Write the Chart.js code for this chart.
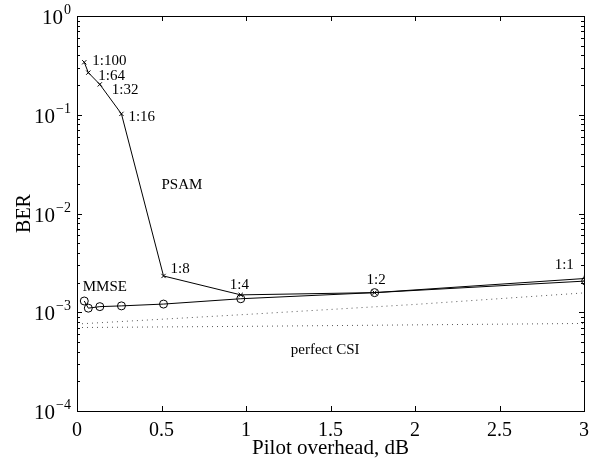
<!DOCTYPE html>
<html>
<head>
<meta charset="utf-8">
<script src="https://cdn.jsdelivr.net/npm/chart.js@4.4.1/dist/chart.umd.min.js"></script>
<style>
  html, body { margin: 0; padding: 0; background: #fff; }
  #wrap { width: 594px; height: 466px; }
</style>
</head>
<body>
<div id="wrap"><canvas id="ber" width="594" height="466"></canvas></div>
<script>
// pilot ratios and their overhead in dB
const ratios = ['1:100', '1:64', '1:32', '1:16', '1:8', '1:4', '1:2', '1:1'];
const overheadDb = [0.043, 0.067, 0.135, 0.263, 0.512, 0.969, 1.761, 3.01];

// BER
const psamBer = [0.34, 0.267, 0.203, 0.102, 2.33e-3, 1.50e-3, 1.58e-3, 2.20e-3];
const mmseBer = [1.30e-3, 1.10e-3, 1.14e-3, 1.16e-3, 1.21e-3, 1.37e-3, 1.58e-3, 2.07e-3];

// perfect CSI curves (dotted)
const csiX = [0, 1, 2, 3];
const csiUpper = [7.6e-4, 9.5e-4, 1.2e-3, 1.57e-3];
const csiLower = [7.0e-4, 7.2e-4, 7.45e-4, 7.7e-4];

// axes
const xTicks = [0, 0.5, 1, 1.5, 2, 2.5, 3];
const yExps = [0, -1, -2, -3, -4];

const FONT = '"Liberation Serif", "DejaVu Serif", serif';

const toPts = (xs, ys) => xs.map((x, i) => ({ x, y: ys[i] }));

// label offsets from each PSAM marker (px)
const ratioLabelOffsets = [[8, -1], [10, 3], [12, 6], [7, 3], [7, -7], [-11, -10], [-8, -13], [-31, -13]];

// free text labels, placed in data coordinates
const textLabels = [
  { text: 'PSAM', x: 0.50, y: 0.0194 },
  { text: 'MMSE', x: 0.034, y: 1.82e-3 },
  { text: 'perfect CSI', x: 1.265, y: 4.15e-4 },
];

const axisFrame = {
  id: 'axisFrame',
  afterDatasetsDraw(chart) {
    const { ctx, chartArea: a, scales } = chart;
    const xs = scales.x, ys = scales.y;
    ctx.save();
    ctx.strokeStyle = '#000';
    ctx.lineWidth = 1;
    ctx.strokeRect(Math.round(a.left) + 0.5, Math.round(a.top) + 0.5,
      Math.round(a.right - a.left), Math.round(a.bottom - a.top));

    // inward ticks
    ctx.beginPath();
    xTicks.forEach((v) => {
      const px = Math.round(xs.getPixelForValue(v)) + 0.5;
      ctx.moveTo(px, a.bottom); ctx.lineTo(px, a.bottom - 5);
      ctx.moveTo(px, a.top); ctx.lineTo(px, a.top + 5);
    });
    yExps.forEach((e) => {
      for (let m = 1; m <= 9; m++) {
        const v = m * Math.pow(10, e);
        if (v > 1 || (e === 0 && m > 1)) continue;
        const py = Math.round(ys.getPixelForValue(v)) + 0.5;
        const len = m === 1 ? 5 : 3;
        ctx.moveTo(a.left, py); ctx.lineTo(a.left + len, py);
        ctx.moveTo(a.right, py); ctx.lineTo(a.right - len, py);
      }
    });
    ctx.stroke();

    // y tick labels 10^e
    ctx.fillStyle = '#000';
    ctx.textBaseline = 'alphabetic';
    ctx.textAlign = 'right';
    yExps.forEach((e) => {
      const py = ys.getPixelForValue(Math.pow(10, e));
      const exp = e === 0 ? '0' : '\u2212' + Math.abs(e);
      ctx.font = '14px ' + FONT;
      const ew = ctx.measureText(exp).width;
      ctx.fillText(exp, 71, py - 2);
      ctx.font = '21px ' + FONT;
      ctx.fillText('10', 71 - ew - 1, py + 8);
    });

    // ratio labels next to PSAM markers
    ctx.font = '15px ' + FONT;
    ctx.textAlign = 'left';
    ctx.textBaseline = 'middle';
    const meta = chart.getDatasetMeta(0);
    ratios.forEach((r, i) => {
      const pt = meta.data[i];
      const [dx, dy] = ratioLabelOffsets[i];
      ctx.fillText(r, pt.x + dx, pt.y + dy);
    });
    textLabels.forEach((t) => {
      ctx.fillText(t.text, xs.getPixelForValue(t.x), ys.getPixelForValue(t.y));
    });
    ctx.restore();
  },
};

new Chart(document.getElementById('ber').getContext('2d'), {
  type: 'line',
  data: {
    datasets: [
      {
        label: 'PSAM',
        data: toPts(overheadDb, psamBer),
        borderColor: '#000',
        borderWidth: 1,
        pointStyle: 'crossRot',
        pointRadius: 3,
        pointBorderColor: '#000',
        pointBorderWidth: 1,
        tension: 0,
      },
      {
        label: 'MMSE',
        data: toPts(overheadDb, mmseBer),
        borderColor: '#000',
        borderWidth: 1,
        pointStyle: 'circle',
        pointRadius: 4,
        pointBorderColor: '#000',
        pointBackgroundColor: 'rgba(0,0,0,0)',
        pointBorderWidth: 1,
        tension: 0,
      },
      {
        label: 'perfect CSI',
        data: toPts(csiX, csiUpper),
        borderColor: '#555',
        borderWidth: 1,
        borderDash: [1, 4],
        pointRadius: 0,
        tension: 0,
      },
      {
        label: 'perfect CSI 2',
        data: toPts(csiX, csiLower),
        borderColor: '#555',
        borderWidth: 1,
        borderDash: [1, 4],
        pointRadius: 0,
        tension: 0,
      },
    ],
  },
  options: {
    responsive: false,
    animation: false,
    layout: { padding: { top: 16, right: 10, left: 0, bottom: 0 } },
    plugins: { legend: { display: false }, tooltip: { enabled: false } },
    scales: {
      x: {
        type: 'linear',
        min: 0,
        max: 3,
        afterFit: (s) => { s.height = 55; s.paddingRight = 0; },
        afterBuildTicks: (s) => { s.ticks = xTicks.map((v) => ({ value: v })); },
        grid: { display: false, drawTicks: false },
        border: { display: false },
        ticks: {
          color: '#000',
          padding: 8,
          maxRotation: 0,
          font: { family: FONT, size: 20 },
          callback: (v) => String(v),
        },
        title: {
          display: true,
          text: 'Pilot overhead, dB',
          color: '#000',
          font: { family: FONT, size: 21 },
          padding: { top: 0, bottom: 5 },
        },
      },
      y: {
        type: 'logarithmic',
        min: 1e-4,
        max: 1,
        afterFit: (s) => { s.width = 77; },
        grid: { display: false, drawTicks: false },
        border: { display: false },
        ticks: { display: false },
        title: {
          display: true,
          text: 'BER',
          color: '#000',
          font: { family: FONT, size: 20 },
          padding: { top: 13, bottom: 0 },
        },
      },
    },
  },
  plugins: [axisFrame],
});
</script>
</body>
</html>
